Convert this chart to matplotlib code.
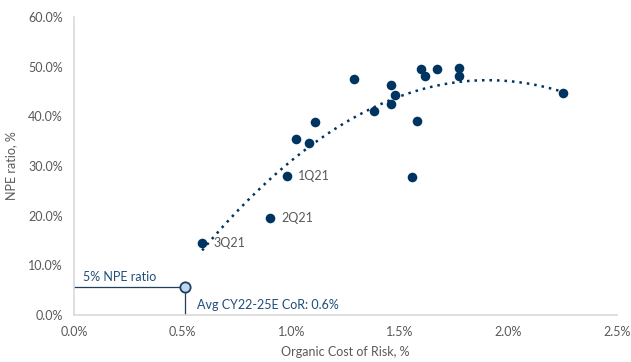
import numpy as np
import matplotlib
matplotlib.use("Agg")
import matplotlib.pyplot as plt
from matplotlib.ticker import FuncFormatter

plt.rcParams['font.family'] = ['Lato', 'DejaVu Sans']

# Data (percent)
cor = [0.59, 0.904, 0.98, 1.02, 1.08, 1.11, 1.29, 1.38, 1.458, 1.479, 1.459,
       1.577, 1.557, 1.596, 1.616, 1.673, 1.773, 1.773, 2.252]
npe = [14.5, 19.5, 28.0, 35.4, 34.6, 38.8, 47.5, 41.0, 46.4, 44.2, 42.5,
       39.0, 27.8, 49.5, 48.1, 49.6, 49.7, 48.1, 44.7]
labels = {0: "3Q21", 1: "2Q21", 2: "1Q21"}

target_cor = 0.51
target_npe = 5.6
target_npe_text = "5% NPE ratio"
target_cor_text = "Avg CY22-25E CoR: 0.6%"

xticks = [0.0, 0.5, 1.0, 1.5, 2.0, 2.5]
yticks = [0, 10, 20, 30, 40, 50, 60]

navy = "#003460"
gray = "#595959"
spine = "#D9D9D9"
fs = 9

fig = plt.figure(figsize=(6.31, 3.62), dpi=100)
ax = fig.add_axes([74/631, 1-315/362, (617-74)/631, (315-17)/362])

# trendline (quadratic fit)
coef = np.polyfit(cor, npe, 2)
xs = np.linspace(min(cor), max(cor), 200)
ax.plot(xs, np.polyval(coef, xs), linestyle=(0, (1, 2)), color=navy, lw=1.8, zorder=2)

ax.scatter(cor, npe, s=48, color=navy, zorder=3, linewidths=0)
for i, t in labels.items():
    ax.annotate(t, (cor[i], npe[i]), xytext=(8, 0), textcoords="offset points",
                va="center", ha="left", fontsize=fs, color=gray)

# target marker
ax.plot([0, target_cor], [target_npe, target_npe], color="#1F3F60", lw=0.9, zorder=2)
ax.plot([target_cor, target_cor], [0, target_npe], color="#1F3F60", lw=0.9, zorder=2)
ax.scatter([target_cor], [target_npe], s=55, facecolor="#BDD7EE", edgecolor="#1F3F60",
           linewidths=1.3, zorder=4)
ax.text(0.04, target_npe + 0.8, target_npe_text, fontsize=fs, color="#1F4E79",
        ha="left", va="bottom")
ax.text(target_cor + 0.055, target_npe - 3.6, target_cor_text, fontsize=fs,
        color="#1F4E79", ha="left", va="center")

ax.set_xlim(0, 2.5)
ax.set_ylim(0, 60)
ax.set_xticks(xticks)
ax.set_yticks(yticks)
ax.xaxis.set_major_formatter(FuncFormatter(lambda v, p: f"{v:.1f}%"))
ax.yaxis.set_major_formatter(FuncFormatter(lambda v, p: f"{v:.1f}%"))
ax.tick_params(length=0, labelsize=fs, labelcolor=gray, pad=8)
for s in ["top", "right"]:
    ax.spines[s].set_visible(False)
for s in ["left", "bottom"]:
    ax.spines[s].set_color(spine)
    ax.spines[s].set_linewidth(1.2)

ax.set_xlabel("Organic Cost of Risk, %", fontsize=fs, color=gray, labelpad=6)
ax.set_ylabel("NPE ratio, %", fontsize=fs, color=gray, labelpad=6)
ax.yaxis.set_label_coords(-0.105, 0.5)

fig.savefig("out.png", dpi=100)
